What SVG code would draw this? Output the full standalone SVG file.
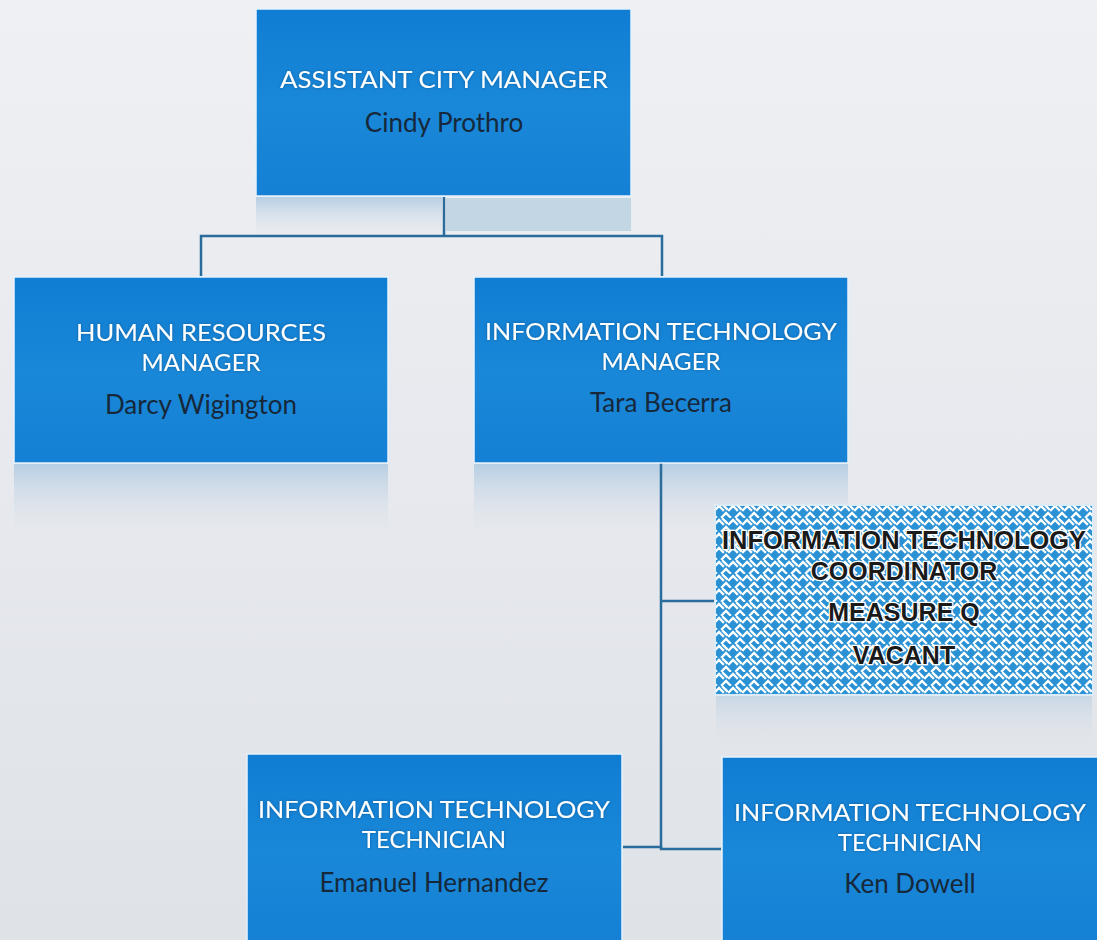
<svg xmlns="http://www.w3.org/2000/svg" width="1097" height="940" viewBox="0 0 1097 940">
  <defs>
    <linearGradient id="bg" x1="0" y1="0" x2="0" y2="1">
      <stop offset="0" stop-color="#eef0f4"/>
      <stop offset="1" stop-color="#dfe2e7"/>
    </linearGradient>
    <linearGradient id="boxFill" x1="0" y1="0" x2="0" y2="1">
      <stop offset="0" stop-color="#0f7dd2"/>
      <stop offset="0.5" stop-color="#1a88d8"/>
      <stop offset="1" stop-color="#1580d4"/>
    </linearGradient>
    <linearGradient id="reflect" x1="0" y1="0" x2="0" y2="1">
      <stop offset="0" stop-color="#b4cde3" stop-opacity="0.95"/>
      <stop offset="1" stop-color="#dfe3ea" stop-opacity="0"/>
    </linearGradient>
    <!-- basket-weave fill for the vacant position -->
    <pattern id="weave" width="14" height="14" patternUnits="userSpaceOnUse">
      <rect width="14" height="14" fill="#2a91d4"/>
      <path d="M1 6 L5 2 L9 6 M8 13 L12 9 L14 11 M0 11 L2 13 M9 1 L13 5" fill="none" stroke="#ffffff" stroke-width="2.4" stroke-linecap="square"/>
    </pattern>
    <filter id="halo" x="-5%" y="-30%" width="110%" height="160%">
      <feGaussianBlur in="SourceAlpha" stdDeviation="1.6" result="b"/>
      <feFlood flood-color="#0a3f70" flood-opacity="0.55"/>
      <feComposite in2="b" operator="in" result="s"/>
      <feMerge><feMergeNode in="s"/><feMergeNode in="SourceGraphic"/></feMerge>
    </filter>
  </defs>
  <style>
    .box { fill: url(#boxFill); stroke: #e8f2fb; stroke-width: 1.5; }
    .refl { fill: url(#reflect); }
    .title { font-family: Lato, "Open Sans", "Liberation Sans", sans-serif; font-size: 24px; fill: #ffffff; text-anchor: middle; }
    .name { font-family: Lato, "Open Sans", "Liberation Sans", sans-serif; font-size: 26px; fill: #16283a; text-anchor: middle; }
    .vac { font-family: "Liberation Sans", Arial, sans-serif; font-weight: bold; font-size: 25px; fill: #1a1a1a; stroke: #ffffff; stroke-width: 2.5; paint-order: stroke; text-anchor: middle; }
    .link { fill: none; stroke: #2a6d9c; stroke-width: 2.5; }
  </style>

  <rect width="1097" height="940" fill="url(#bg)"/>

  <!-- reflections under boxes -->
  <g id="reflections">
    <rect class="refl" x="256" y="197" width="186" height="40"/>
    <rect x="446" y="198" width="185" height="33" fill="#c3d6e4"/>
    <rect class="refl" x="14" y="464" width="374" height="70"/>
    <rect class="refl" x="474" y="464" width="374" height="70"/>
    <rect class="refl" x="716" y="696" width="376" height="50" opacity="0.6"/>
  </g>

  <g id="connectors">
    <path class="link" d="M444 197 V236 M201 276 V236 H662 V276"/>
    <path class="link" d="M661 463 V848"/>
    <path class="link" d="M661 601 H715"/>
    <path class="link" d="M623 847 H661 V849 H721"/>
  </g>

  <g id="assistant-city-manager">
    <rect class="box" x="256" y="9" width="375" height="187"/>
    <text class="title" x="444" y="88" filter="url(#halo)" textLength="328" lengthAdjust="spacingAndGlyphs">ASSISTANT CITY MANAGER</text>
    <text class="name" x="444" y="132">Cindy Prothro</text>
  </g>

  <g id="hr-manager">
    <rect class="box" x="14" y="277" width="374" height="186"/>
    <text class="title" x="201" y="341" filter="url(#halo)" textLength="250" lengthAdjust="spacingAndGlyphs">HUMAN RESOURCES</text>
    <text class="title" x="201" y="371" filter="url(#halo)">MANAGER</text>
    <text class="name" x="201" y="414">Darcy Wigington</text>
  </g>

  <g id="it-manager">
    <rect class="box" x="474" y="277" width="374" height="186"/>
    <text class="title" x="661" y="340" filter="url(#halo)" textLength="352" lengthAdjust="spacingAndGlyphs">INFORMATION TECHNOLOGY</text>
    <text class="title" x="661" y="370" filter="url(#halo)">MANAGER</text>
    <text class="name" x="661" y="412">Tara Becerra</text>
  </g>

  <g id="it-coordinator">
    <rect x="715" y="505" width="378" height="190" fill="url(#weave)" stroke="#dcebf6" stroke-width="2"/>
    <text class="vac" x="904" y="549" textLength="364" lengthAdjust="spacingAndGlyphs">INFORMATION TECHNOLOGY</text>
    <text class="vac" x="904" y="580">COORDINATOR</text>
    <text class="vac" x="904" y="621">MEASURE Q</text>
    <text class="vac" x="904" y="664">VACANT</text>
  </g>

  <g id="it-technician-1">
    <rect class="box" x="247" y="754" width="375" height="190"/>
    <text class="title" x="434" y="818" filter="url(#halo)" textLength="352" lengthAdjust="spacingAndGlyphs">INFORMATION TECHNOLOGY</text>
    <text class="title" x="434" y="848" filter="url(#halo)">TECHNICIAN</text>
    <text class="name" x="434" y="892">Emanuel Hernandez</text>
  </g>

  <g id="it-technician-2">
    <rect class="box" x="722" y="757" width="378" height="190"/>
    <text class="title" x="910" y="821" filter="url(#halo)" textLength="352" lengthAdjust="spacingAndGlyphs">INFORMATION TECHNOLOGY</text>
    <text class="title" x="910" y="851" filter="url(#halo)">TECHNICIAN</text>
    <text class="name" x="910" y="893">Ken Dowell</text>
  </g>
</svg>
